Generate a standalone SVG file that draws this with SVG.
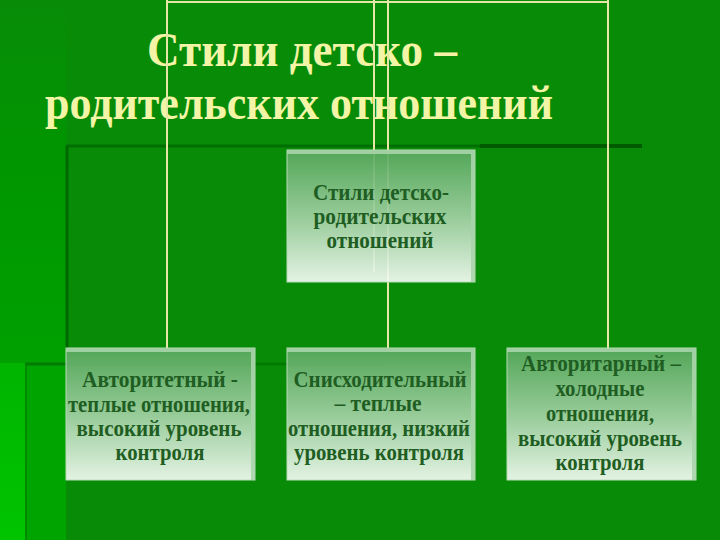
<svg xmlns="http://www.w3.org/2000/svg" width="720" height="540" viewBox="0 0 720 540">
  <defs>
    <linearGradient id="boxg" x1="0" y1="0" x2="0" y2="1">
      <stop offset="0" stop-color="#58a85e"/>
      <stop offset="0.5" stop-color="#a2d0a4"/>
      <stop offset="1" stop-color="#f6fbf6"/>
    </linearGradient>
    <linearGradient id="leftg" x1="0" y1="0" x2="0" y2="1">
      <stop offset="0" stop-color="#088c08"/>
      <stop offset="0.3" stop-color="#009600"/>
      <stop offset="1" stop-color="#00aa00"/>
    </linearGradient>
    <linearGradient id="edgeg" x1="0" y1="0" x2="0" y2="1">
      <stop offset="0" stop-color="#00b400"/>
      <stop offset="1" stop-color="#00c400"/>
    </linearGradient>
    <style>
      .title { font-family: "Liberation Serif", "Times New Roman", serif; font-weight: bold; font-size: 48px; fill: #f4f4a6; }
      .lbl { font-family: "Liberation Serif", "Times New Roman", serif; font-weight: bold; font-size: 23px; fill: #1f5e22; text-anchor: middle; }
      .conn { stroke: #e6e6a6; stroke-width: 2; fill: none; }
      .box { fill: url(#boxg); fill-opacity: 0.92; stroke: #b8dcb8; stroke-width: 1; }
      .bev { fill: #a8d4aa; opacity: 0.9; }
    </style>
  </defs>

  <!-- background -->
  <rect x="0" y="0" width="720" height="540" fill="#088c08"/>
  <rect x="0" y="0" width="66" height="540" fill="url(#leftg)"/>
  <rect x="0" y="363" width="25" height="177" fill="url(#edgeg)"/>
  <rect x="25" y="363" width="41" height="177" fill="#00a400"/>
  <line x1="26" y1="363" x2="26" y2="540" stroke="#008a00" stroke-width="2"/>
  <line x1="25" y1="364" x2="385" y2="364" stroke="#007a00" stroke-width="3"/>
  <line x1="66" y1="146" x2="480" y2="146" stroke="#006e00" stroke-width="3"/>
  <line x1="480" y1="146" x2="642" y2="146" stroke="#005a00" stroke-width="4"/>
  <line x1="67" y1="146" x2="67" y2="350" stroke="#006800" stroke-width="3"/>

  <!-- title -->
  <g id="title">
    <text class="title" x="302" y="66" text-anchor="middle" textLength="310" lengthAdjust="spacingAndGlyphs">Стили детско –</text>
    <text class="title" x="299" y="119" text-anchor="middle" textLength="508" lengthAdjust="spacingAndGlyphs">родительских отношений</text>
  </g>

  <!-- connectors -->
  <g id="connectors">
    <line class="conn" x1="167" y1="2" x2="608" y2="2"/>
    <line class="conn" x1="167" y1="0" x2="167" y2="348"/>
    <line class="conn" x1="608" y1="0" x2="608" y2="348"/>
    <line class="conn" x1="374" y1="0" x2="374" y2="272"/>
    <line class="conn" x1="388" y1="0" x2="388" y2="348"/>
  </g>

  <!-- root node -->
  <g id="root">
    <rect class="box" x="287" y="150" width="188" height="132"/>
    <polygon class="bev" points="287,150 475,150 472,154 287,154"/>
    <polygon class="bev" points="475,150 475,282 471,282 471,154"/>
    <text class="lbl" x="381" y="200" textLength="136" lengthAdjust="spacingAndGlyphs">Стили детско-</text>
    <text class="lbl" x="380" y="224" textLength="133" lengthAdjust="spacingAndGlyphs">родительских</text>
    <text class="lbl" x="380" y="248" textLength="107" lengthAdjust="spacingAndGlyphs">отношений</text>
  </g>

  <!-- child 1 -->
  <g id="authoritative">
    <rect class="box" x="66" y="348" width="189" height="132"/>
    <polygon class="bev" points="66,348 255,348 252,352 66,352"/>
    <polygon class="bev" points="255,348 255,480 251,480 251,352"/>
    <text class="lbl" x="160" y="387" textLength="156" lengthAdjust="spacingAndGlyphs">Авторитетный -</text>
    <text class="lbl" x="159" y="412" textLength="182" lengthAdjust="spacingAndGlyphs">теплые отношения,</text>
    <text class="lbl" x="159" y="436" textLength="165" lengthAdjust="spacingAndGlyphs">высокий уровень</text>
    <text class="lbl" x="160" y="460" textLength="89" lengthAdjust="spacingAndGlyphs">контроля</text>
  </g>

  <!-- child 2 -->
  <g id="permissive">
    <rect class="box" x="287" y="348" width="188" height="132"/>
    <polygon class="bev" points="287,348 475,348 472,352 287,352"/>
    <polygon class="bev" points="475,348 475,480 471,480 471,352"/>
    <text class="lbl" x="380" y="387" textLength="173" lengthAdjust="spacingAndGlyphs">Снисходительный</text>
    <text class="lbl" x="378" y="411" textLength="87" lengthAdjust="spacingAndGlyphs">– теплые</text>
    <text class="lbl" x="379" y="436" textLength="182" lengthAdjust="spacingAndGlyphs">отношения, низкий</text>
    <text class="lbl" x="379" y="460" textLength="170" lengthAdjust="spacingAndGlyphs">уровень контроля</text>
  </g>

  <!-- child 3 -->
  <g id="authoritarian">
    <rect class="box" x="507" y="348" width="189" height="132"/>
    <polygon class="bev" points="507,348 696,348 693,352 507,352"/>
    <polygon class="bev" points="696,348 696,480 692,480 692,352"/>
    <text class="lbl" x="601" y="371" textLength="160" lengthAdjust="spacingAndGlyphs">Авторитарный –</text>
    <text class="lbl" x="600" y="396" textLength="89" lengthAdjust="spacingAndGlyphs">холодные</text>
    <text class="lbl" x="600" y="421" textLength="108" lengthAdjust="spacingAndGlyphs">отношения,</text>
    <text class="lbl" x="600" y="446" textLength="164" lengthAdjust="spacingAndGlyphs">высокий уровень</text>
    <text class="lbl" x="600" y="470" textLength="89" lengthAdjust="spacingAndGlyphs">контроля</text>
  </g>
</svg>
